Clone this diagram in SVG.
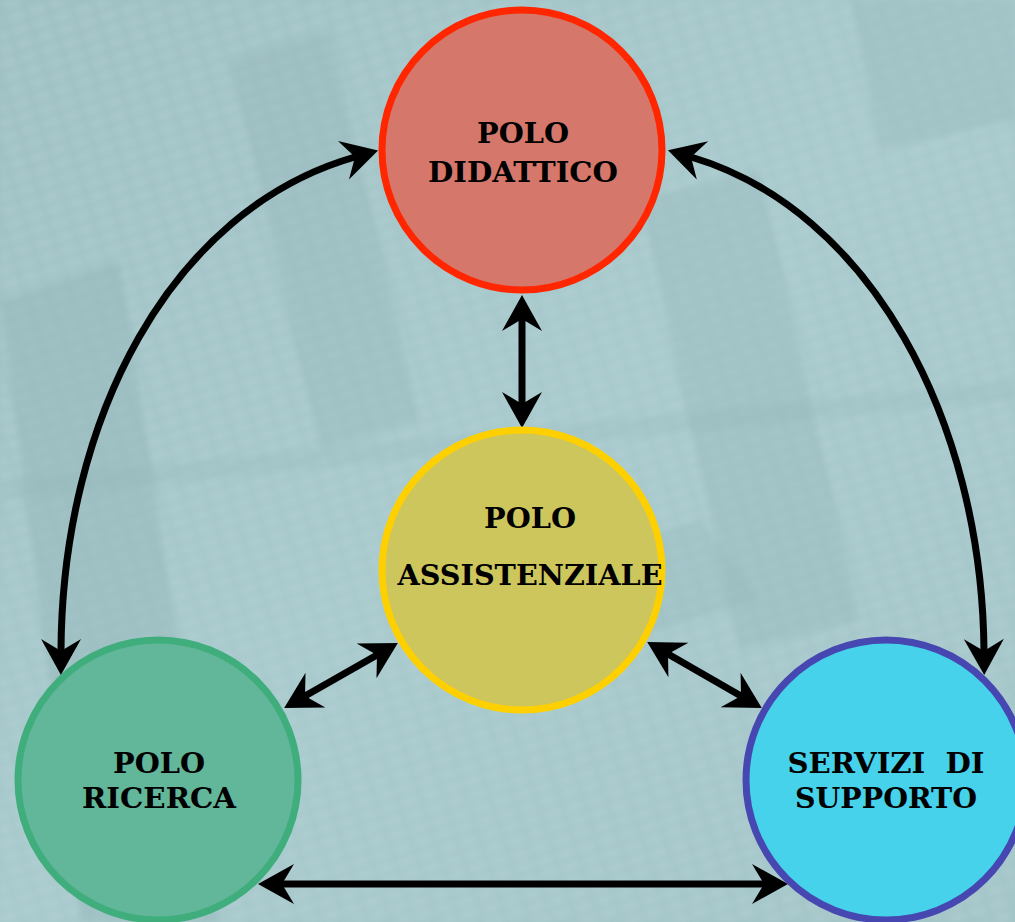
<svg xmlns="http://www.w3.org/2000/svg" width="1015" height="922" viewBox="0 0 1015 922">
<defs>
<linearGradient id="bg" x1="0" y1="0" x2="1" y2="1">
<stop offset="0" stop-color="#9ebfc2"/>
<stop offset="0.5" stop-color="#a8c9cc"/>
<stop offset="1" stop-color="#a3c4c7"/>
</linearGradient>
<pattern id="grid" width="22" height="14" patternUnits="userSpaceOnUse" patternTransform="rotate(-18)">
<rect width="22" height="14" fill="none"/>
<rect x="2" y="2" width="17" height="9" fill="#c2dfe1" opacity="0.3"/>
</pattern>
<filter id="blur" x="-10%" y="-10%" width="120%" height="120%"><feGaussianBlur stdDeviation="3"/></filter>
<marker id="ah" viewBox="-14 -22 40 44" refX="0" refY="0" markerWidth="40" markerHeight="44" markerUnits="userSpaceOnUse" orient="auto-start-reverse">
<path d="M24,0 L-12,-20 L0,0 L-12,20 Z" fill="#000"/>
</marker>
</defs>
<style>
.conn{fill:none;stroke:#000;stroke-width:7;marker-start:url(#ah);marker-end:url(#ah)}
.lbl{font-family:"DejaVu Serif","Liberation Serif",serif;font-weight:bold;font-size:28px;fill:#000;text-anchor:middle}
.node circle{stroke-width:7}
</style>
<g id="background">
<rect width="1015" height="922" fill="url(#bg)"/>
<g filter="url(#blur)" opacity="0.9">
<rect x="0" y="0" width="1015" height="922" fill="url(#grid)"/>
<path d="M0,300 L120,260 L220,922 L80,922 Z" fill="#8daeb2" opacity="0.35"/>
<path d="M230,60 L330,30 L420,420 L320,450 Z" fill="#8daeb2" opacity="0.3"/>
<path d="M640,200 L760,170 L860,620 L740,650 Z" fill="#8daeb2" opacity="0.3"/>
<path d="M850,0 L1015,0 L1015,120 L880,150 Z" fill="#8daeb2" opacity="0.3"/>
<path d="M420,600 L700,520 L760,600 L470,690 Z" fill="#8daeb2" opacity="0.25"/>
<path d="M0,480 L1015,380 L1015,400 L0,500 Z" fill="#8daeb2" opacity="0.2"/>
</g>
</g>
<g id="connectors">
<path class="conn" d="M522,319 L522,404"/>
<path class="conn" d="M61,651 C62,420 170,210 355,157"/>
<path class="conn" d="M691,157 C870,210 982,420 984,651"/>
<path class="conn" d="M305,696 L377,655"/>
<path class="conn" d="M668,654 L741,696"/>
<path class="conn" d="M282,884 L764,884"/>
</g>
<g id="polo-didattico" class="node">
<circle cx="522" cy="150" r="140" fill="#d5776a" stroke="#ff2600"/>
<text class="lbl" x="523" y="143" textLength="92" lengthAdjust="spacingAndGlyphs">POLO</text>
<text class="lbl" x="523" y="182" textLength="190" lengthAdjust="spacingAndGlyphs">DIDATTICO</text>
</g>
<g id="polo-assistenziale" class="node">
<circle cx="522" cy="570" r="140" fill="#cdc65c" stroke="#ffd000"/>
<text class="lbl" x="530" y="528" textLength="92" lengthAdjust="spacingAndGlyphs">POLO</text>
<text class="lbl" x="530" y="585" textLength="265" lengthAdjust="spacingAndGlyphs">ASSISTENZIALE</text>
</g>
<g id="polo-ricerca" class="node">
<circle cx="158" cy="780" r="140" fill="#62b69a" stroke="#3fae7c"/>
<text class="lbl" x="159" y="773" textLength="92" lengthAdjust="spacingAndGlyphs">POLO</text>
<text class="lbl" x="159" y="808" textLength="154" lengthAdjust="spacingAndGlyphs">RICERCA</text>
</g>
<g id="servizi-di-supporto" class="node">
<circle cx="886" cy="780" r="140" fill="#45d2ea" stroke="#4647b0"/>
<text class="lbl" x="886" y="773" xml:space="preserve" textLength="197" lengthAdjust="spacingAndGlyphs">SERVIZI  DI</text>
<text class="lbl" x="886" y="808" textLength="182" lengthAdjust="spacingAndGlyphs">SUPPORTO</text>
</g>
</svg>
